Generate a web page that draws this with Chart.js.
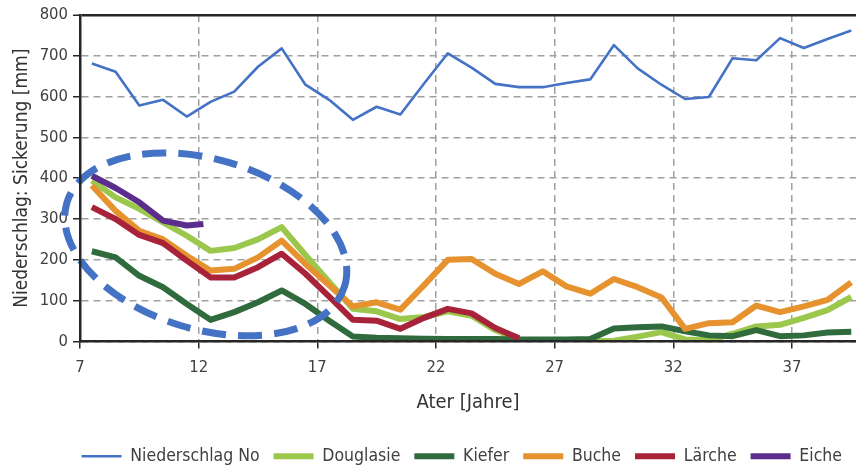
<!DOCTYPE html>
<html><head><meta charset="utf-8">
<script src="https://cdn.jsdelivr.net/npm/chart.js@4/dist/chart.umd.min.js"></script>
<style>html,body{margin:0;padding:0;background:#fff}</style>
</head><body>
<canvas id="c" width="856" height="467"></canvas>
<script>
// ---- data ----
const years = [7.5,8.5,9.5,10.5,11.5,12.5,13.5,14.5,15.5,16.5,17.5,18.5,19.5,20.5,21.5,22.5,23.5,24.5,25.5,26.5,27.5,28.5,29.5,30.5,31.5,32.5,33.5,34.5,35.5,36.5,37.5,38.5,39.5];
const niederschlag = [681,661,578,592,551,587,612,673,718,629,592,543,575,556,632,706,671,631,623,623,633,642,726,669,629,594,599,694,689,743,719,741,762];
const douglasie = [394,353,325,292,259,222,229,250,280,212,146,80,74,55,60,74,63,28,4,2,1,1,2,12,23,5,3,19,37,41,58,77,109];
const kiefer = [221,206,161,133,92,53,72,96,125,92,51,12,9,8,7,6,6,6,5,5,5,6,32,35,37,25,15,13,28,13,15,22,24];
const buche = [382,320,271,250,210,174,178,206,247,190,138,86,96,78,138,200,202,166,141,172,135,117,153,133,108,31,45,47,88,72,86,102,145];
const laerche = [329,300,261,241,198,157,157,182,215,166,110,53,51,31,58,80,69,33,8];
const eicheYears = [7.5,8.5,9.5,10.5,11.5,12.2];
const eiche = [406,376,341,296,284,288];
const xTickValues = [7,12,17,22,27,32,37];
const xTickLabels = ['7','12','17','22','27','32','37'];
const yTickLabels = ['0','100','200','300','400','500','600','700','800'];
// highlighted region (dashed ellipse), centre in data units
const ellipseCentre = {x: 12.3, y: 238};

const FONT = "'DejaVu Sans Condensed','DejaVu Sans',sans-serif";
const pts = (xs, vs) => vs.map((v, i) => ({x: xs[i], y: v}));

function ds(label, xs, vs, color, w) {
  return {label, data: pts(xs, vs), borderColor: color, backgroundColor: color,
    borderWidth: w, pointRadius: 0, pointHoverRadius: 0, tension: 0,
    borderJoinStyle: 'round', borderCapStyle: 'butt', fill: false};
}

const ellipsePlugin = {
  id: 'ellipse',
  afterDatasetsDraw(chart) {
    const {ctx, scales: {x, y}} = chart;
    const cx = x.getPixelForValue(ellipseCentre.x), cy = y.getPixelForValue(ellipseCentre.y);
    ctx.save();
    ctx.beginPath();
    ctx.ellipse(cx, cy, 145, 85, 16.7 * Math.PI / 180, 0, Math.PI * 2);
    ctx.setLineDash([24, 12]);
    ctx.lineDashOffset = 6;
    ctx.lineWidth = 7;
    ctx.strokeStyle = '#4472c4';
    ctx.stroke();
    ctx.restore();
  }
};

new Chart(document.getElementById('c'), {
  type: 'line',
  data: {
    datasets: [
      ds('Eiche', eicheYears, eiche, '#5b2d8d', 6),
      ds('Lärche', years, laerche, '#a8223a', 6),
      ds('Buche', years, buche, '#e6922f', 6),
      ds('Kiefer', years, kiefer, '#2f6b3c', 6),
      ds('Douglasie', years, douglasie, '#9bc84c', 6),
      ds('Niederschlag No', years, niederschlag, '#4472c4', 2.6)
    ]
  },
  options: {
    responsive: false, animation: false, devicePixelRatio: 1,
    layout: {padding: {top: 14, right: 0, left: 0, bottom: -8}},
    plugins: {
      tooltip: {enabled: false},
      legend: {
        position: 'bottom', align: 'end', reverse: true,
        labels: {usePointStyle: true, pointStyle: 'line', pointStyleWidth: 40,
          boxHeight: 18, padding: 14, color: '#404040', font: {family: FONT, size: 17.5}}
      }
    },
    scales: {
      x: {
        type: 'linear', min: 7, max: 39.7,
        afterBuildTicks: s => { s.ticks = xTickValues.map(v => ({value: v})); },
        afterFit: s => { s.height = 92; },
        ticks: {autoSkip: false, maxRotation: 0, padding: 9, color: '#404040',
          font: {family: FONT, size: 16.5}, callback: (v, i) => xTickLabels[i]},
        grid: {color: '#a0a0a0', lineWidth: 1.5, tickColor: '#262626', tickLength: 7, tickWidth: 1.5, tickBorderDash: []},
        border: {color: '#262626', width: 2.5, dash: [7, 5], z: 1},
        title: {display: true, text: 'Ater [Jahre]', color: '#333', padding: 0,
          font: {family: FONT, size: 20, lineHeight: 3.1}}
      },
      y: {
        min: 0, max: 800,
        afterFit: s => { s.width = 80; },
        ticks: {stepSize: 100, padding: 5, color: '#404040', font: {family: FONT, size: 16.5},
          callback: (v, i) => yTickLabels[i]},
        grid: {
          color: c => (c.tick && c.tick.value === 800) ? '#262626' : '#a0a0a0',
          lineWidth: c => (c.tick && c.tick.value === 800) ? 2.5 : 1.5,
          tickColor: '#262626', tickLength: 7, tickWidth: 1.5, tickBorderDash: []},
        border: {color: '#262626', width: 2.5, z: 1,
          dash: c => (c.tick && c.tick.value === 800) ? [] : [7, 5]},
        title: {display: true, text: 'Niederschlag: Sickerung [mm]', color: '#333', padding: 0,
          font: {family: FONT, size: 19, lineHeight: 2.3}}
      }
    }
  },
  plugins: [ellipsePlugin]
});
</script>
</body></html>
